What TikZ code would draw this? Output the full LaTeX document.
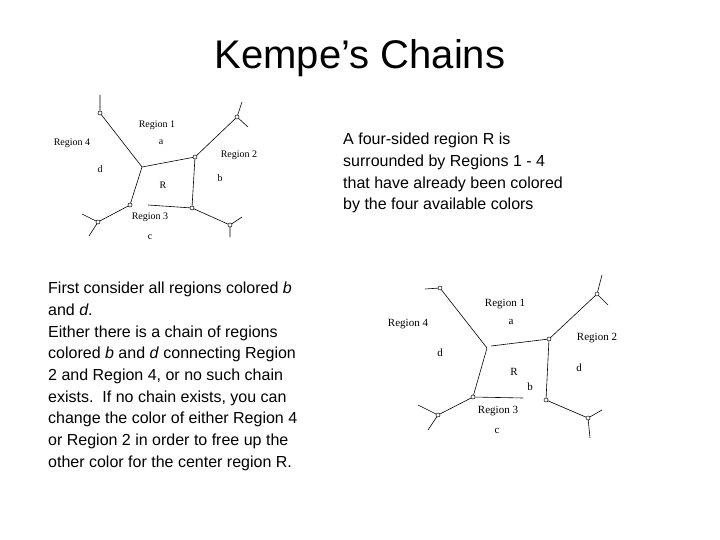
\documentclass[tikz,border=0pt]{standalone}
\usepackage{fontspec}
\setmainfont{Liberation Sans}
\newfontfamily\serifx{Liberation Serif}
\begin{document}
\begin{tikzpicture}[x=1pt,y=-1pt,
  edge/.style={line width=0.6pt},
  vtx/.style={circle,draw,fill=white,inner sep=0pt,minimum size=4pt,line width=0.5pt},
  pt/.style={inner sep=0pt,minimum size=0pt},
  lab/.style={font=\serifx\fontsize{10}{10}\selectfont,inner sep=0pt},
  body/.style={font=\fontsize{16}{21.7}\selectfont,align=left,anchor=north west,inner sep=0pt}]
\useasboundingbox (0,0) rectangle (720,540);
\node (title) at (360,58) {\fontsize{40}{44}\selectfont Kempe’s Chains};
% ---- small diagram
\coordinate (a0) at (100,95);
\node[vtx] (a1) at (100,113) {};
\node[pt] (a2) at (142,167) {};
\node[vtx] (a3) at (195,157) {};
\node[vtx] (a4) at (237,117) {};
\coordinate (a4u) at (242,102); \coordinate (a4r) at (248,127);
\node[vtx] (a5) at (192,208) {};
\node[vtx] (a6) at (130,205) {};
\coordinate (a6g) at (148,205);
\node[vtx] (a7) at (98,222) {};
\coordinate (a7u) at (82,214); \coordinate (a7d) at (89,236);
\node[vtx] (a8) at (230,225) {};
\coordinate (a8r) at (242,217); \coordinate (a8d) at (230,237);
\draw[edge] (a0)--(a1) (a1)--(a2) (a2)--(a3) (a3)--(a4) (a4)--(a4u) (a4)--(a4r)
  (a3)--(a5) (a2)--(a6) (a6g)--(a5) (a6)--(a7) (a7)--(a7u) (a7)--(a7d)
  (a5)--(a8) (a8)--(a8r) (a8)--(a8d);
\node[lab] (l1) at (157,125) {Region 1};
\node[lab] (l2) at (161,142) {a};
\node[lab] (l3) at (72,143) {Region 4};
\node[lab] (l4) at (100,169) {d};
\node[lab] (l5) at (239,155) {Region 2};
\node[lab] (l6) at (220,178) {b};
\node[lab] (l7) at (163,185) {R};
\node[lab] (l8) at (150,217) {Region 3};
\node[lab] (l9) at (150,237) {c};
% ---- large diagram
\coordinate (b0) at (425,289);
\node[vtx] (b1) at (440,288) {};
\node[pt] (b2) at (487,348) {};
\coordinate (b2g) at (491,346);
\node[vtx] (b3) at (549,339) {};
\node[vtx] (b4) at (597,294) {};
\coordinate (b4u) at (602,275); \coordinate (b4r) at (608,305);
\node[vtx] (b5) at (546,400) {};
\node[vtx] (b6) at (473,397) {};
\coordinate (b6g) at (523,398);
\node[vtx] (b7) at (438,415) {};
\coordinate (b7u) at (418,405); \coordinate (b7d) at (428,430);
\node[vtx] (b8) at (588,418) {};
\coordinate (b8r) at (602,410); \coordinate (b8d) at (590,438);
\draw[edge] (b0)--(b1) (b1)--(b2) (b2g)--(b3) (b3)--(b4) (b4)--(b4u) (b4)--(b4r)
  (b3)--(b5) (b2)--(b6) (b6)--(b6g) (b6)--(b7) (b7)--(b7u) (b7)--(b7d)
  (b5)--(b8) (b8)--(b8r) (b8)--(b8d);
\node[lab,font=\serifx\fontsize{11}{11}\selectfont] (m1) at (505,304) {Region 1};
\node[lab,font=\serifx\fontsize{11}{11}\selectfont] (m2) at (511,322) {a};
\node[lab,font=\serifx\fontsize{11}{11}\selectfont] (m3) at (408,324) {Region 4};
\node[lab,font=\serifx\fontsize{11}{11}\selectfont] (m4) at (440,353) {d};
\node[lab,font=\serifx\fontsize{11}{11}\selectfont] (m5) at (597,338) {Region 2};
\node[lab,font=\serifx\fontsize{11}{11}\selectfont] (m6) at (579,368) {d};
\node[lab,font=\serifx\fontsize{11}{11}\selectfont] (m7) at (514,372) {R};
\node[lab,font=\serifx\fontsize{11}{11}\selectfont] (m8) at (530,387) {b};
\node[lab,font=\serifx\fontsize{11}{11}\selectfont] (m9) at (498,411) {Region 3};
\node[lab,font=\serifx\fontsize{11}{11}\selectfont] (m10) at (497,431) {c};
% ---- texts
\node[body] (t1) at (343,133) {A four-sided region R is\\surrounded by Regions 1 - 4\\that have already been colored\\by the four available colors};
\node[body] (t2) at (48,282) {First consider all regions colored \textit{b}\\and \textit{d}.\\Either there is a chain of regions\\colored \textit{b} and \textit{d} connecting Region\\2 and Region 4, or no such chain\\exists.\ \ If no chain exists, you can\\change the color of either Region 4\\or Region 2 in order to free up the\\other color for the center region R.};
\end{tikzpicture}
\end{document}
